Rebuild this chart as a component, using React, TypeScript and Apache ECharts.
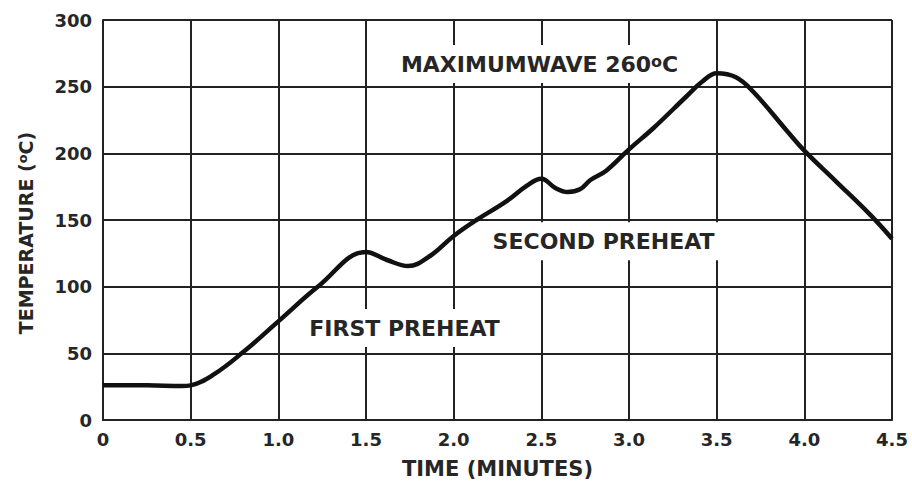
import React, { useEffect, useRef } from "react";
import * as echarts from "echarts";

// Time (minutes) and temperature (°C)
const timeMin = [0, 0.25, 0.45, 0.5, 0.63, 0.8, 1.0, 1.23, 1.5, 1.62, 1.74, 1.865, 2.0, 2.13, 2.3, 2.42, 2.5, 2.58, 2.65, 2.72, 2.78, 2.87, 3.0, 3.14, 3.33, 3.42, 3.5, 3.61, 3.71, 3.9, 4.0, 4.18, 4.375, 4.5];
const tempC = [26, 26, 25.5, 26, 34, 51, 74, 100.5, 126, 120, 115.5, 123, 138, 150, 164, 176, 181, 174, 171, 173, 180, 187, 203, 219, 243, 254, 260, 257, 246, 217, 202, 179, 154, 136];

const xTicks = [0, 0.5, 1.0, 1.5, 2.0, 2.5, 3.0, 3.5, 4.0, 4.5];
const yTicks = [0, 50, 100, 150, 200, 250, 300];

// Annotation labels: [time, temperature, text]
const annotations: [number, number, string][] = [
  [1.72, 69, "FIRST PREHEAT"],
  [2.855, 134, "SECOND PREHEAT"],
  [2.49, 267, "MAXIMUMWAVE 260{sup|o}C"],
];

const FONT = "'DejaVu Sans', 'Liberation Sans', sans-serif";
const TEXT = "#262626";
const GRID = "#222222";

export default function App() {
  const ref = useRef<HTMLDivElement>(null);
  useEffect(() => {
    if (!ref.current) return;
    const chart = echarts.init(ref.current, undefined, { renderer: "svg" });
    const line = timeMin.map((t, i) => [t, tempC[i]]);
    chart.setOption({
      animation: false,
      backgroundColor: "#ffffff",
      grid: { left: 103, right: 20, top: 20, bottom: 61, containLabel: false },
      xAxis: {
        type: "value",
        min: xTicks[0],
        max: xTicks[xTicks.length - 1],
        interval: 0.5,
        name: "TIME (MINUTES)",
        nameLocation: "middle",
        nameGap: 38,
        nameTextStyle: { fontFamily: FONT, fontWeight: "bold", fontSize: 21, color: TEXT },
        axisLine: { show: true, lineStyle: { color: GRID, width: 2 } },
        axisTick: { show: false },
        axisLabel: {
          margin: 10,
          fontFamily: FONT,
          fontWeight: "bold",
          fontSize: 18,
          color: TEXT,
          formatter: (v: number) => (v === 0 ? "0" : v.toFixed(1)),
        },
        splitLine: { show: true, lineStyle: { color: GRID, width: 2 } },
      },
      yAxis: {
        type: "value",
        min: yTicks[0],
        max: yTicks[yTicks.length - 1],
        interval: 50,
        name: "TEMPERATURE ({sup|o}C)",
        nameLocation: "middle",
        nameGap: 68,
        nameTextStyle: {
          fontFamily: FONT,
          fontWeight: "bold",
          fontSize: 19,
          color: TEXT,
          padding: [0, 26, 0, 0],
          rich: { sup: { fontFamily: FONT, fontWeight: "bold", fontSize: 13, color: TEXT, verticalAlign: "top", lineHeight: 19 } },
        },
        axisLine: { show: true, lineStyle: { color: GRID, width: 2 } },
        axisTick: { show: false },
        axisLabel: { margin: 11, fontFamily: FONT, fontWeight: "bold", fontSize: 18, color: TEXT },
        splitLine: { show: true, lineStyle: { color: GRID, width: 2 } },
      },
      series: [
        {
          type: "line",
          data: line,
          smooth: 0.4,
          showSymbol: false,
          symbol: "none",
          lineStyle: { color: "#111111", width: 4.5 },
          z: 3,
        },
        {
          type: "scatter",
          symbolSize: 0,
          itemStyle: { opacity: 1 },
          data: annotations.map((a) => ({ value: [a[0], a[1]], name: a[2] })),
          label: {
            show: true,
            position: "inside",
            formatter: (p: any) => p.name,
            fontFamily: FONT,
            fontWeight: "bold",
            fontSize: 22,
            color: TEXT,
            opacity: 1,
            lineHeight: 22,
            backgroundColor: "#ffffff",
            padding: [8, 4],
            rich: {
              sup: { fontFamily: FONT, fontWeight: "bold", fontSize: 16, color: TEXT, verticalAlign: "top", lineHeight: 22 },
            },
          },
          emphasis: { disabled: true },
          silent: true,
          z: 4,
        },
      ],
    });
    return () => chart.dispose();
  }, []);
  return <div ref={ref} style={{ width: 912, height: 484, position: "absolute", left: 0, top: 0 }} />;
}
